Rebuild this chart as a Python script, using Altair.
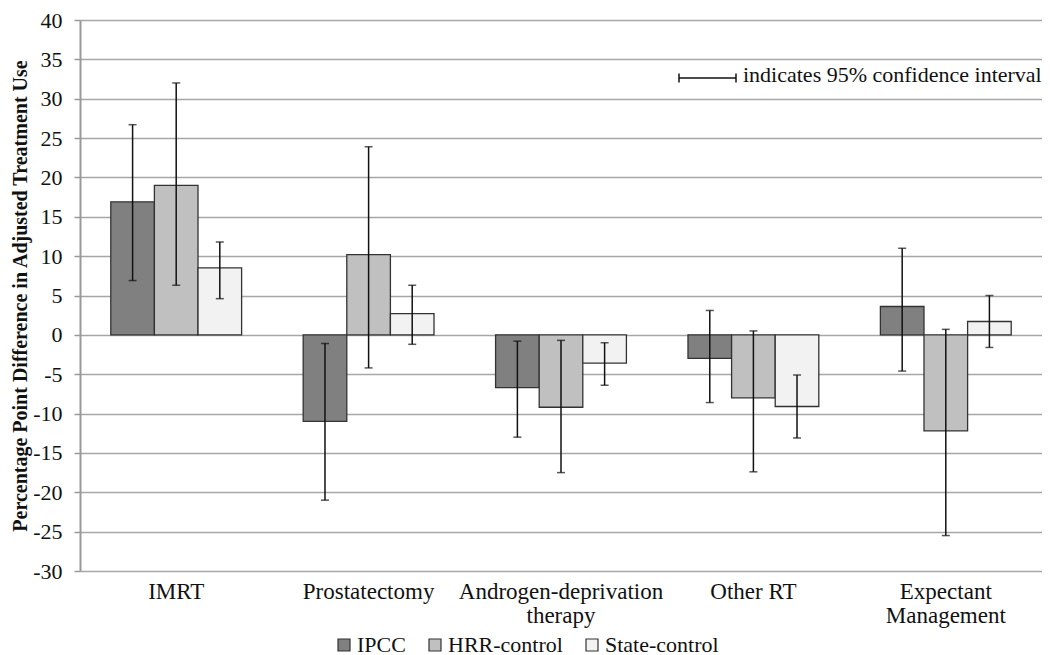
import altair as alt
import pandas as pd

categories = ["IMRT", "Prostatectomy", "Androgen-deprivation|therapy", "Other RT", "Expectant|Management"]
series = ["IPCC", "HRR-control", "State-control"]
colors = ["#808080", "#c0c0c0", "#f2f2f2"]

ipcc = [16.9, -11.0, -6.7, -3.0, 3.6]
ipcc_lo = [6.9, -21.0, -13.0, -8.6, -4.6]
ipcc_hi = [26.7, -1.1, -0.8, 3.1, 11.0]

hrr = [19.0, 10.2, -9.2, -8.0, -12.2]
hrr_lo = [6.3, -4.2, -17.5, -17.4, -25.5]
hrr_hi = [32.0, 23.9, -0.7, 0.5, 0.7]

state = [8.5, 2.7, -3.6, -9.1, 1.7]
state_lo = [4.6, -1.2, -6.4, -13.1, -1.6]
state_hi = [11.8, 6.3, -1.0, -5.1, 5.0]

y_ticks = list(range(-30, 41, 5))

rows = []
for s, vals, los, his in [
    ("IPCC", ipcc, ipcc_lo, ipcc_hi),
    ("HRR-control", hrr, hrr_lo, hrr_hi),
    ("State-control", state, state_lo, state_hi),
]:
    for c, v, lo, hi in zip(categories, vals, los, his):
        rows.append({"cat": c, "series": s, "value": v, "lo": lo, "hi": hi})
df = pd.DataFrame(rows)

FONT = "Liberation Serif"
INK = "#111111"
TOP = 12

x_enc = alt.X(
    "cat:N",
    sort=categories,
    scale=alt.Scale(paddingInner=0.32, paddingOuter=0.16),
    axis=alt.Axis(
        title=None, labelAngle=0, domain=False, ticks=False,
        labelFont=FONT, labelFontSize=23, labelColor=INK, labelLimit=400,
        labelPadding=9, labelExpr="split(datum.value, '|')",
        labelLineHeight=24,
    ),
)
xo_enc = alt.XOffset("series:N", sort=series)
y_scale = alt.Scale(domain=[-30, 40], nice=False, zero=False)
y_axis = alt.Axis(
    values=y_ticks,
    tickCount=len(y_ticks),
    labelOverlap=False,
    labelExpr="datum.value < 0 ? '-' + abs(datum.value) : '' + datum.value",
    title="Percentage Point Difference in Adjusted Treatment Use",
    titleFont=FONT, titleFontSize=20, titleFontWeight="bold", titleColor=INK,
    titleX=-54, titleBaseline="alphabetic",
    labelFont=FONT, labelFontSize=22, labelColor=INK, labelPadding=12,
    domainColor="#999999", domainWidth=2, tickColor="#999999", tickSize=6,
    tickWidth=1.5,
    gridColor="#a6a6a6", gridWidth=1.6,
)

base = alt.Chart(df)

bars = base.mark_bar(stroke="#333333", strokeWidth=1.3).encode(
    x=x_enc,
    xOffset=xo_enc,
    y=alt.Y("value:Q", scale=y_scale, axis=y_axis),
    y2=alt.datum(0),
    color=alt.Color(
        "series:N",
        sort=series,
        scale=alt.Scale(domain=series, range=colors),
        legend=alt.Legend(
            title=None, orient="none", direction="horizontal",
            legendX=253, legendY=634 - 8 - TOP,
            symbolType="square", symbolSize=144,
            symbolStrokeColor="#333333", symbolStrokeWidth=1.2,
            labelFont=FONT, labelFontSize=22, labelColor=INK,
            columnPadding=18, symbolOffset=0, labelOffset=2,
        ),
    ),
)

err = base.mark_rule(color=INK, strokeWidth=1.5).encode(
    x=x_enc, xOffset=xo_enc, y=alt.Y("lo:Q", scale=y_scale, axis=y_axis), y2="hi:Q"
)
cap_lo = base.mark_tick(color=INK, orient="horizontal", size=8, thickness=1.5).encode(
    x=x_enc, xOffset=xo_enc, y=alt.Y("lo:Q", scale=y_scale, axis=y_axis)
)
cap_hi = base.mark_tick(color=INK, orient="horizontal", size=8, thickness=1.5).encode(
    x=x_enc, xOffset=xo_enc, y=alt.Y("hi:Q", scale=y_scale, axis=y_axis)
)

# annotation: confidence interval key (page y = 78 for the line)
ky = 78 - 8 - TOP
key_line = alt.Chart(pd.DataFrame({"k": [0]})).mark_rule(color=INK, strokeWidth=1.5).encode(
    x=alt.value(599), x2=alt.value(656), y=alt.value(ky)
)
key_caps = alt.Chart(pd.DataFrame({"xp": [599, 656]})).mark_rule(color=INK, strokeWidth=1.5).encode(
    x=alt.X("xp:Q", scale=None), y=alt.value(ky - 4.5), y2=alt.value(ky + 4.5)
)
key_text = alt.Chart(pd.DataFrame({"t": ["indicates 95% confidence interval"]})).mark_text(
    align="left", baseline="alphabetic", font=FONT, fontSize=22, color=INK
).encode(x=alt.value(663), y=alt.value(ky + 3.5), text="t:N")

chart = alt.layer(bars, err, cap_lo, cap_hi, key_line, key_caps, key_text).properties(
    width=962,
    height=571 - 8 - TOP,
    padding={"left": 72, "top": TOP, "right": 0, "bottom": 90},
    autosize=alt.AutoSizeParams(type="none"),
).configure_view(stroke=None)

chart.save("out.html", embed_options={"renderer": "svg", "actions": False})
